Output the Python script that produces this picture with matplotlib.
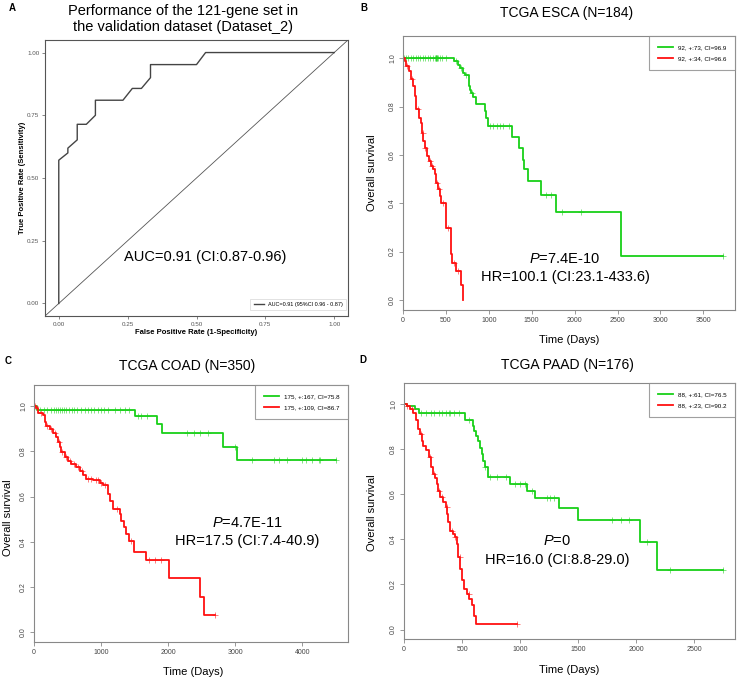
import numpy as np
import matplotlib
matplotlib.use('Agg')
import matplotlib.pyplot as plt

plt.rcParams['font.family'] = ['Liberation Sans', 'DejaVu Sans']
plt.rcParams['mathtext.fontset'] = 'custom'
plt.rcParams['mathtext.it'] = 'Liberation Sans:italic'
plt.rcParams['mathtext.rm'] = 'Liberation Sans'

W, H = 739, 680

# ROC curve (panel A)
roc_fpr = [0, 0, 0.033, 0.033, 0.067, 0.067, 0.1, 0.133, 0.133, 0.233, 0.267, 0.3, 0.333, 0.333, 0.5, 0.533, 1.0]
roc_tpr = [0, 0.571, 0.6, 0.619, 0.652, 0.714, 0.714, 0.75, 0.81, 0.81, 0.857, 0.857, 0.9, 0.952, 0.952, 1.0, 1.0]

# TCGA ESCA
esca_lo_t = [0, 600, 640, 660, 700, 720, 767, 785, 795, 814, 853, 950, 970, 990, 1271, 1356, 1395, 1415, 1453, 1609, 1783, 2539, 3733]
esca_lo_s = [1.0, 0.988, 0.97, 0.96, 0.94, 0.93, 0.887, 0.87, 0.857, 0.839, 0.81, 0.78, 0.753, 0.72, 0.672, 0.63, 0.58, 0.54, 0.49, 0.435, 0.364, 0.182, 0.182]
esca_lo_c = [10, 30, 60, 90, 120, 150, 170, 200, 230, 260, 290, 320, 350, 375, 380, 385, 390, 395, 400, 410, 430, 460, 500,
             620, 680, 740, 800, 1010, 1050, 1090, 1130, 1170, 1230, 1667, 1725, 1853, 2074, 3733]
esca_hi_t = [0, 19, 39, 70, 97, 116, 136, 155, 186, 205, 221, 233, 252, 279, 302, 322, 349, 376, 388, 407, 426, 446, 504, 554, 574, 612, 678, 698]
esca_hi_s = [1.0, 0.99, 0.967, 0.949, 0.915, 0.884, 0.843, 0.788, 0.753, 0.733, 0.691, 0.657, 0.629, 0.595, 0.574, 0.554, 0.54, 0.519, 0.485, 0.457, 0.43, 0.40, 0.297, 0.19, 0.154, 0.12, 0.06, 0.0]
esca_hi_c = [50, 105, 175, 230, 260, 310, 335, 395, 415, 470, 520, 590, 640]

# TCGA COAD
coad_lo_t = [0, 40, 1500, 1834, 1908, 2817, 3031, 4507]
coad_lo_s = [1.0, 0.982, 0.956, 0.92, 0.88, 0.82, 0.76, 0.76]
coad_lo_c = [90, 150, 200, 250, 300, 330, 360, 390, 420, 450, 480, 520, 560, 600, 640, 700, 760, 800, 850, 900, 950,
             1000, 1050, 1100, 1200, 1280, 1350, 1420, 1550, 1600, 1680, 2280, 2380, 2480, 2600, 2990,
             3250, 3570, 3650, 3770, 3990, 4050, 4150, 4250, 4270, 4507]
coad_hi_t = [0, 35, 60, 134, 159, 184, 234, 283, 333, 358, 383, 407, 457, 507, 557, 631, 681, 730, 770, 880, 979, 1029,
             1100, 1140, 1178, 1277, 1302, 1337, 1376, 1416, 1486, 1675, 2012, 2470, 2534, 2693]
coad_hi_s = [1.0, 0.99, 0.97, 0.96, 0.93, 0.911, 0.896, 0.879, 0.864, 0.841, 0.819, 0.797, 0.775, 0.757, 0.742, 0.73, 0.713,
             0.693, 0.679, 0.671, 0.659, 0.649, 0.612, 0.582, 0.545, 0.523, 0.493, 0.464, 0.434, 0.404, 0.357, 0.318, 0.239, 0.156, 0.079, 0.079]
coad_hi_c = [20, 100, 200, 260, 310, 370, 420, 480, 530, 600, 660, 720, 800, 850, 920, 960, 1000, 1060, 1230, 1450,
             1720, 1800, 1900, 2693]

# TCGA PAAD
paad_lo_t = [0, 23, 95, 132, 525, 597, 606, 620, 635, 654, 669, 683, 697, 726, 913, 1056, 1128, 1337, 1501, 2032, 2181, 2749]
paad_lo_s = [1.0, 0.99, 0.975, 0.96, 0.93, 0.90, 0.88, 0.857, 0.835, 0.806, 0.776, 0.747, 0.718, 0.674, 0.644, 0.615,
             0.582, 0.537, 0.487, 0.388, 0.262, 0.262]
paad_lo_c = [150, 190, 230, 260, 300, 330, 360, 390, 400, 430, 470, 560, 700, 740, 800, 880, 960, 1000, 1040, 1100,
             1230, 1260, 1290, 1790, 1870, 1940, 2090, 2290, 2749]
paad_hi_t = [0, 23, 52, 80, 103, 118, 138, 152, 166, 189, 218, 232, 247, 267, 281, 296, 310, 339, 362, 373, 382, 396,
             419, 439, 459, 468, 482, 497, 517, 540, 563, 583, 603, 620, 970]
paad_hi_s = [1.0, 0.99, 0.975, 0.96, 0.93, 0.89, 0.865, 0.835, 0.813, 0.794, 0.762, 0.718, 0.688, 0.67, 0.644, 0.615,
             0.588, 0.566, 0.541, 0.512, 0.475, 0.438, 0.424, 0.409, 0.379, 0.32, 0.269, 0.218, 0.181, 0.159, 0.137,
             0.107, 0.059, 0.026, 0.026]
paad_hi_c = [30, 70, 150, 220, 260, 300, 330, 370, 410, 440, 480, 560, 970]

GREEN = '#18d018'
RED = '#ff1010'


def box(l, t, r, b):
    # pixel box -> figure fraction
    return [l / W, 1 - b / H, (r - l) / W, (b - t) / H]


def ftext(x, y, s, **kw):
    fig.text(x / W, 1 - y / H, s, **kw)


def km(ax, t, s, cens, color, label):
    ax.step(t, s, where='post', color=color, lw=1.3, label=label)
    t = np.array(t)
    s = np.array(s)
    idx = np.searchsorted(t, cens, side='right') - 1
    ax.plot(cens, s[idx], ls='none', marker='+', ms=4, mew=0.7, color=color, alpha=0.55)


def km_axes(ax, xmax, xticks):
    ax.set_xlim(0, xmax)
    ax.set_ylim(-0.042, 1.092)
    ax.set_xticks(xticks)
    ax.set_xticklabels([str(v) for v in xticks])
    yt = [0.0, 0.2, 0.4, 0.6, 0.8, 1.0]
    ax.set_yticks(yt)
    ax.set_yticklabels([f'{v:.1f}' for v in yt], rotation=90, va='center')
    for sp in ax.spines.values():
        sp.set_color('#888888')
        sp.set_linewidth(0.8)
    ax.tick_params(direction='out', length=3, width=0.6, color='#888888', labelsize=5, labelcolor='#444444', pad=2)
    leg = ax.legend(loc='upper right', fontsize=4.5, frameon=True, fancybox=False, borderaxespad=0,
                    borderpad=1.4, labelspacing=0.9, handlelength=2.4, handletextpad=0.8)
    leg.get_frame().set_edgecolor('#888888')
    leg.get_frame().set_linewidth(0.8)


fig = plt.figure(figsize=(W / 100, H / 100), dpi=100)

# Panel A: ROC
axA = fig.add_axes(box(45, 40, 348, 316))
axA.plot([-0.05, 1.05], [-0.05, 1.05], color='#555555', lw=0.6)
axA.plot(roc_fpr, roc_tpr, color='#444444', lw=1.0, label='AUC=0.91 (95%CI 0.96 - 0.87)')
axA.set_xlim(-0.05, 1.05)
axA.set_ylim(-0.05, 1.05)
ticks = [0, 0.25, 0.5, 0.75, 1.0]
axA.set_xticks(ticks)
axA.set_yticks(ticks)
axA.set_xticklabels([f'{v:.2f}' for v in ticks])
axA.set_yticklabels([f'{v:.2f}' for v in ticks])
for sp in axA.spines.values():
    sp.set_color('#555555')
    sp.set_linewidth(0.8)
axA.tick_params(direction='out', length=2, width=0.5, color='#555555', labelsize=4.5, labelcolor='#555555', pad=2)
legA = axA.legend(loc='lower right', fontsize=4, frameon=True, fancybox=False, bbox_to_anchor=(0.995, 0.02),
                  borderaxespad=0, handlelength=1.8, borderpad=0.6)
legA.get_frame().set_edgecolor('#cccccc')
legA.get_frame().set_linewidth(0.5)
ftext(196, 333, 'False Positive Rate (1-Specificity)', ha='center', va='center', fontsize=5.5, fontweight='bold')
ftext(23, 178, 'True Positive Rate (Sensitivity)', ha='center', va='center', fontsize=5.5, fontweight='bold', rotation=90)
ftext(205, 257, 'AUC=0.91 (CI:0.87-0.96)', ha='center', va='center', fontsize=10.5)
ftext(183, 19, 'Performance of the 121-gene set in\nthe validation dataset (Dataset_2)', ha='center', va='center',
      fontsize=10.5, linespacing=1.15)

# Panel B: ESCA
axB = fig.add_axes(box(403, 36, 735, 310))
km(axB, esca_lo_t, esca_lo_s, esca_lo_c, GREEN, '92, +:73, CI=96.9')
km(axB, esca_hi_t, esca_hi_s, esca_hi_c, RED, '92, +:34, CI=96.6')
km_axes(axB, 3869, [0, 500, 1000, 1500, 2000, 2500, 3000, 3500])
ftext(567, 13, 'TCGA ESCA (N=184)', ha='center', va='center', fontsize=10)
ftext(372, 173, 'Overall survival', ha='center', va='center', fontsize=8, rotation=90)
ftext(569, 340, 'Time (Days)', ha='center', va='center', fontsize=8)
ftext(565, 259, '$P$=7.4E-10', ha='center', va='center', fontsize=10.5)
ftext(565, 277, 'HR=100.1 (CI:23.1-433.6)', ha='center', va='center', fontsize=10.5)

# Panel C: COAD
axC = fig.add_axes(box(34, 385, 348, 642))
km(axC, coad_lo_t, coad_lo_s, coad_lo_c, GREEN, '175, +:167, CI=75.8')
km(axC, coad_hi_t, coad_hi_s, coad_hi_c, RED, '175, +:109, CI=86.7')
km_axes(axC, 4680, [0, 1000, 2000, 3000, 4000])
ftext(187, 366, 'TCGA COAD (N=350)', ha='center', va='center', fontsize=10)
ftext(8, 518, 'Overall survival', ha='center', va='center', fontsize=8, rotation=90)
ftext(193, 672, 'Time (Days)', ha='center', va='center', fontsize=8)
ftext(247, 523, '$P$=4.7E-11', ha='center', va='center', fontsize=10.5)
ftext(247, 541, 'HR=17.5 (CI:7.4-40.9)', ha='center', va='center', fontsize=10.5)

# Panel D: PAAD
axD = fig.add_axes(box(404, 383, 735, 639))
km(axD, paad_lo_t, paad_lo_s, paad_lo_c, GREEN, '88, +:61, CI=76.5')
km(axD, paad_hi_t, paad_hi_s, paad_hi_c, RED, '88, +:23, CI=90.2')
km_axes(axD, 2851, [0, 500, 1000, 1500, 2000, 2500])
ftext(567, 365, 'TCGA PAAD (N=176)', ha='center', va='center', fontsize=10)
ftext(372, 513, 'Overall survival', ha='center', va='center', fontsize=8, rotation=90)
ftext(569, 670, 'Time (Days)', ha='center', va='center', fontsize=8)
ftext(557, 541, '$P$=0', ha='center', va='center', fontsize=10.5)
ftext(557, 560, 'HR=16.0 (CI:8.8-29.0)', ha='center', va='center', fontsize=10.5)

# panel letters
for x, y, s in [(12, 8, 'A'), (364, 8, 'B'), (8, 361, 'C'), (363, 360, 'D')]:
    ftext(x, y, s, ha='center', va='center', fontsize=7, fontweight='bold')

fig.savefig('out.png', dpi=100)
